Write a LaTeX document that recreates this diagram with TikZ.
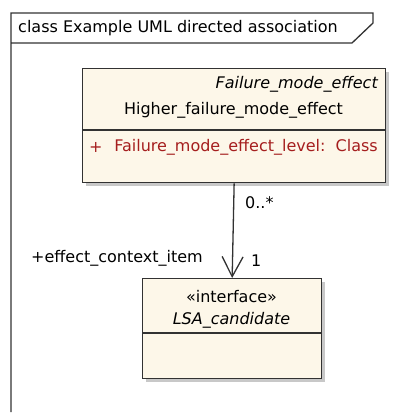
\documentclass[tikz,border=0pt]{standalone}
\usepackage{fontspec}
\setmainfont{DejaVu Sans}
\usetikzlibrary{arrows.meta}
\definecolor{umlfill}{RGB}{253,247,233}
\definecolor{umlline}{RGB}{50,50,50}
\definecolor{umlred}{RGB}{165,30,30}
\definecolor{umlshadow}{RGB}{200,200,200}
\tikzset{
  umltext/.style={inner sep=0pt, font=\fontsize{16}{18}\selectfont, text=black},
  umlbox/.style={draw=umlline, line width=1.3pt, fill=umlfill, inner sep=0pt},
  umlshade/.style={fill=umlshadow, draw=none},
  frameline/.style={draw=umlline, line width=1.3pt},
}
\begin{document}
\begin{tikzpicture}[x=1pt,y=-1pt]
\useasboundingbox (0,0) rectangle (419,412);
% frame
\draw[frameline] (11,412) -- (11,13) -- (373,13) -- (373,23) -- (352,43) -- (11,43);
\node[umltext, anchor=west] (title) at (18,28) {class Example UML directed association};
% top class
\fill[umlshade] (86,72) rectangle (389,186);
\node[umlbox, anchor=north west, minimum width=303pt, minimum height=114pt] (hfme) at (82,68) {};
\draw[umlline, line width=1.3pt] (82,130) -- (385,130);
\node[umltext, anchor=east, font=\fontsize{16}{18}\selectfont\itshape] (abs) at (378,84) {Failure\_mode\_effect};
\node[umltext] (hname) at (233.5,110) {Higher\_failure\_mode\_effect};
\node[umltext, anchor=west, text=umlred] (plus) at (89,147) {+};
\node[umltext, anchor=east, text=umlred] (attr) at (378,147) {Failure\_mode\_effect\_level:\ \ Class};
% bottom class
\fill[umlshade] (146,282) rectangle (325,382);
\node[umlbox, anchor=north west, minimum width=179pt, minimum height=100pt] (lsa) at (142,278) {};
\draw[umlline, line width=1.3pt] (142,333) -- (321,333);
\node[umltext] (stereo) at (231.5,297) {«interface»};
\node[umltext, font=\fontsize{16}{18}\selectfont\itshape] (lname) at (231.5,320) {LSA\_candidate};
% association
\draw[umlline, line width=1.3pt, -{Straight Barb[length=20pt,width=21pt,line width=1.3pt]}] (hfme.south) -- (lsa.north);
\node[umltext, anchor=west] (m1) at (245,203) {0..*};
\node[umltext, anchor=west] (m2) at (251,261) {1};
\node[umltext, anchor=east] (role) at (203,258) {+effect\_context\_item};
\end{tikzpicture}
\end{document}
